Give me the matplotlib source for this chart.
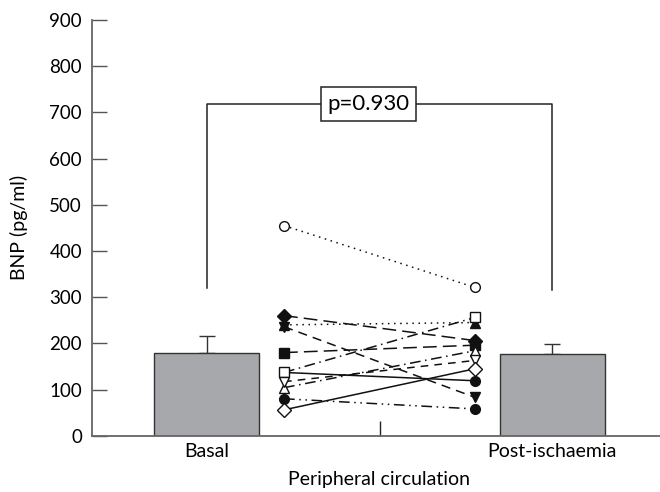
"""Basal vs post-ischaemia BNP in the peripheral circulation."""

import matplotlib

matplotlib.use("Agg")

import matplotlib.pyplot as plt

plt.rcParams["font.family"] = ["Lato", "DejaVu Sans"]

# group means with upper error
groups = ["Basal", "Post-ischaemia"]
means = [179, 176]
errors = [36, 23]
p_text = "p=0.930"

# paired individual values: (marker, filled, linestyle)
basal_vals = [455, 260, 240, 236, 180, 137, 137, 104, 117, 80, 56]
post_vals = [321, 206, 245, 83, 196, 119, 256, 184, 163, 58, 145]
markers = ["o", "D", "^", "v", "s", "o", "s", "^", "v", "o", "D"]
filled = [False, True, True, True, True, True, False, False, False, True, False]
styles = [
    (0, (1, 3)),
    (0, (9, 4)),
    (0, (1, 3)),
    (0, (6, 4)),
    (0, (9, 4)),
    "-",
    (0, (7, 3, 1, 3)),
    (0, (7, 3, 1, 3)),
    (0, (5, 4)),
    (0, (7, 3, 1, 3, 1, 3)),
    "-",
]


def main() -> None:
    fig = plt.figure(figsize=(6.6, 4.92), dpi=100)
    ax = fig.add_axes([0.139, 0.1144, 0.861, 0.8449])

    xpos = [0, 1]
    ax.bar(xpos, means, width=0.303, color="#a7a8ab", edgecolor="#333333",
           linewidth=1.0, zorder=2)
    ax.errorbar(xpos, means, yerr=[[0, 0], errors], fmt="none",
                ecolor="#333333", elinewidth=1.0, capsize=6, capthick=1.0, zorder=1)

    xl, xr = 0.224, 0.776
    for i in range(len(basal_vals)):
        face = "#111111" if filled[i] else "white"
        z = 3 if filled[i] else 4
        ms = 7.5 if markers[i] == "D" else 7
        ax.plot([xl, xr], [basal_vals[i], post_vals[i]], color="#111111",
                linestyle=styles[i], linewidth=1.1, marker=markers[i],
                markersize=ms, markerfacecolor=face, markeredgecolor="#111111",
                markeredgewidth=1.0, zorder=z)

    # significance bracket
    ax.plot([0, 0, 1, 1], [319, 718, 718, 315], color="#222222", linewidth=1.1,
            zorder=2)
    ax.text(0.468, 718, p_text, ha="center", va="center", fontsize=16,
            bbox=dict(boxstyle="square,pad=0.3", facecolor="white",
                      edgecolor="#222222", linewidth=1.1), zorder=5)

    ax.set_xlim(-0.332, 1.311)
    ax.set_ylim(0, 900)
    ax.set_yticks(range(0, 901, 100))
    ax.set_xticks(xpos)
    ax.set_xticklabels(groups)
    ax.set_xticks([0.5], minor=True)
    ax.tick_params(axis="y", direction="in", length=11, width=1.0,
                   color="#555555", labelsize=13.5, pad=7)
    ax.tick_params(axis="x", which="major", length=0, labelsize=14, pad=5)
    ax.tick_params(axis="x", which="minor", direction="in", length=11,
                   width=1.0, color="#222222")

    for side in ["top", "right"]:
        ax.spines[side].set_visible(False)
    for side in ["left", "bottom"]:
        ax.spines[side].set_color("#666666")
        ax.spines[side].set_linewidth(1.3)

    ax.set_ylabel("BNP (pg/ml)", fontsize=14)
    ax.yaxis.set_label_coords(-0.112, 0.5)
    ax.set_xlabel("Peripheral circulation", fontsize=14)
    ax.xaxis.set_label_coords((379 - 92) / 568, -0.085)

    fig.savefig("out.png", dpi=100)
    plt.close(fig)


if __name__ == "__main__":
    main()
